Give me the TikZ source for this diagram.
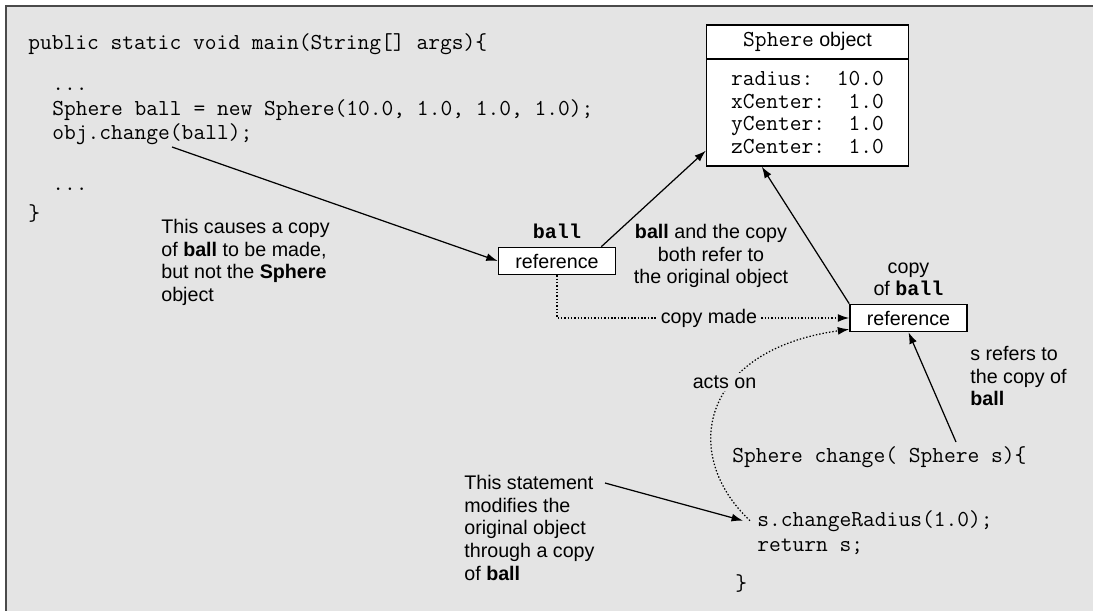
\documentclass[tikz,border=0pt]{standalone}
\usepackage{fontspec}
\usetikzlibrary{arrows.meta,positioning}
\newfontfamily\sansfam{Liberation Sans}
\newfontfamily\monobold{Liberation Mono}
\newcommand{\notefont}{\sansfam\fontsize{11.2}{12.9}\selectfont}
\newcommand{\codefont}{\ttfamily\fontsize{13}{12.9}\selectfont}
\newcommand{\tagfont}{\monobold\bfseries\fontsize{11.4}{12.9}\selectfont}
\definecolor{panel}{HTML}{E4E4E4}
\definecolor{rim}{HTML}{4A4A4A}

\begin{document}
\begin{tikzpicture}[x=0.02cm,y=-0.02cm,
  code/.style={font=\codefont,anchor=base west,inner sep=0pt},
  note/.style={font=\notefont,align=left,anchor=north west,inner sep=0pt},
  gap/.style={font=\notefont,fill=panel,inner sep=1.5pt},
  refbox/.style={draw,line width=0.9pt,fill=white,font=\notefont,minimum width=2.34cm,minimum height=0.54cm,inner sep=0pt},
  objbox/.style={draw,line width=0.8pt,fill=white,minimum width=4.04cm,inner sep=0pt},
  arr/.style={-{Latex[length=6.5pt,width=4.5pt]},line width=0.7pt},
  dotarr/.style={arr,dash pattern=on 0.8pt off 1.1pt}]
\useasboundingbox (0,0) rectangle (1093,611);
\fill[panel] (6,6) rectangle (1093,611);
\draw[rim,line width=1.2pt] (6,611) -- (6,6) -- (1093,6);

\node[code] (mainsig) at (28,50) {public static void main(String[] args)\{};
\node[code] (dotsa) at (52,91) {...};
\node[code] (decl) at (52,116) {Sphere ball = new Sphere(10.0, 1.0, 1.0, 1.0);};
\node[code] (call) at (52,140) {obj.change(ball);};
\node[code] (dotsb) at (52,191) {...};
\node[code] (mainend) at (28,221) {\}};

\node[objbox,minimum height=0.68cm,font=\notefont] (objhead) at (807.5,42) {{\ttfamily\fontsize{13}{13}\selectfont Sphere} object};
\node[objbox,minimum height=2.14cm,align=left,font=\codefont] (objbody) at (807.5,112.5)
  {radius:\ \ 10.0\\xCenter:\ \ 1.0\\yCenter:\ \ 1.0\\zCenter:\ \ 1.0};

\node[refbox] (ballref) at (557,261) {reference};
\node[font=\tagfont,inner sep=0pt,above=0.16cm of ballref] (balltag) {ball};
\node[refbox] (copyref) at (908.5,318) {reference};
\node[font=\notefont,align=center,inner sep=0pt,above=0.15cm of copyref] (copytag) {copy\\of {\tagfont ball}};

\node[note] (causes) at (161,219) {This causes a copy\\of \textbf{ball} to be made,\\but not the \textbf{Sphere}\\object};
\node[note,align=center,anchor=north] (refers) at (711,224) {\textbf{ball} and the copy\\both refer to\\the original object};
\node[note] (srefers) at (970,346) {s refers to\\the copy of\\\textbf{ball}};
\node[note] (stmt) at (464,475) {This statement\\modifies the\\original object\\through a copy\\of \textbf{ball}};

\node[code] (fsig) at (732,462) {Sphere change( Sphere s)\{};
\node[code] (fbody) at (757,526) {s.changeRadius(1.0);};
\node[code] (fret) at (757,551) {return s;};
\node[code] (fend) at (735,590) {\}};

\coordinate (callpt) at (172,147);
\coordinate (stmtpt) at (605,483);
\coordinate (sigpt) at (956,442);

\draw[arr] (callpt) -- (ballref.west);
\draw[arr] ([xshift=-0.3cm]ballref.north east) -- ([yshift=0.32cm]objbody.south west);
\draw[arr] (copyref.north west) -- ([xshift=1.12cm]objbody.south west);
\draw[dotarr] (ballref.south) -- (ballref.south |- copyref.west) -- node[gap,pos=0.52] (copymade) {copy made} (copyref.west);
\draw[dotarr] ([xshift=-0.14cm]fbody.west) .. controls (680,455) and (700,350) .. ([yshift=0.06cm]copyref.south west);
\node[gap] (actson) at (724.5,382) {acts on};
\draw[arr] (stmtpt) -- ([xshift=-0.28cm]fbody.west);
\draw[arr] (sigpt) -- (copyref.south);
\end{tikzpicture}
\end{document}
